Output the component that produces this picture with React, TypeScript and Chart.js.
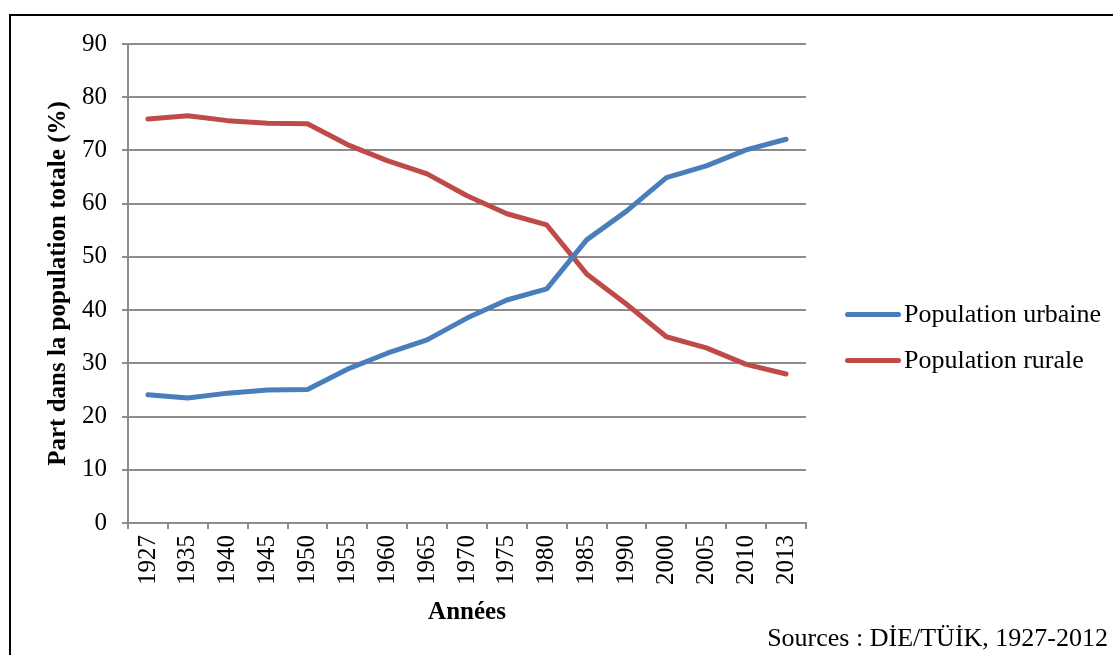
import React, { useEffect, useRef } from "react";
import { Chart, registerables } from "chart.js";

Chart.register(...registerables);

const years = ["1927", "1935", "1940", "1945", "1950", "1955", "1960", "1965", "1970", "1975", "1980", "1985", "1990", "2000", "2005", "2010", "2013"];
const urbaine = [24.1, 23.5, 24.4, 25.0, 25.1, 28.9, 31.9, 34.4, 38.5, 41.9, 44.0, 53.2, 58.6, 64.9, 67.1, 70.1, 72.1];
const rurale = [75.9, 76.5, 75.6, 75.1, 75.0, 71.1, 68.1, 65.6, 61.5, 58.1, 56.0, 46.8, 41.1, 35.0, 32.9, 29.8, 28.0];
const yTicks = [0, 10, 20, 30, 40, 50, 60, 70, 80, 90];
const seriesNames = ["Population urbaine", "Population rurale"];
const seriesColors = ["#4A7EBB", "#BE4B48"];
const xTitle = "Années";
const yTitle = "Part dans la population totale (%)";
const sourceText = "Sources : DİE/TÜİK, 1927-2012";

const FONT = "'Liberation Serif', 'Times New Roman', serif";
const GRID = "#8c8c8c";

export default function App() {
  const ref = useRef<HTMLCanvasElement | null>(null);

  useEffect(() => {
    if (!ref.current) return;
    const chart = new Chart(ref.current, {
      type: "line",
      data: {
        labels: years,
        datasets: [
          {
            label: seriesNames[0],
            data: urbaine,
            borderColor: seriesColors[0],
            backgroundColor: seriesColors[0],
            borderWidth: 5,
            pointRadius: 0,
            tension: 0,
            borderCapStyle: "round",
            borderJoinStyle: "round",
          },
          {
            label: seriesNames[1],
            data: rurale,
            borderColor: seriesColors[1],
            backgroundColor: seriesColors[1],
            borderWidth: 5,
            pointRadius: 0,
            tension: 0,
            borderCapStyle: "round",
            borderJoinStyle: "round",
          },
        ],
      },
      options: {
        responsive: false,
        animation: false,
        devicePixelRatio: 1,
        layout: { padding: { top: 44, right: 307, bottom: 0, left: 0 } },
        plugins: { legend: { display: false }, tooltip: { enabled: false } },
        scales: {
          x: {
            type: "category",
            offset: true,
            grid: {
              offset: true,
              drawOnChartArea: false,
              drawTicks: true,
              tickLength: 6,
              color: GRID,
              lineWidth: 2,
            },
            border: { display: true, color: GRID, width: 2 },
            ticks: {
              autoSkip: false,
              minRotation: 90,
              maxRotation: 90,
              padding: 6,
              color: "#000",
              font: { family: FONT, size: 25 },
            },
            title: {
              display: true,
              text: xTitle,
              color: "#000",
              font: { family: FONT, size: 25, weight: "bold" },
              padding: { top: 0, bottom: 27 },
            },
            afterFit: (s: any) => {
              s.height = 132;
            },
          },
          y: {
            min: 0,
            max: 90,
            afterBuildTicks: (s: any) => {
              s.ticks = yTicks.map((v) => ({ value: v }));
            },
            grid: {
              drawTicks: true,
              tickLength: 6,
              color: GRID,
              lineWidth: 2,
            },
            border: { display: true, color: GRID, width: 2 },
            ticks: {
              padding: 15,
              color: "#000",
              font: { family: FONT, size: 25 },
            },
            title: {
              display: true,
              text: yTitle,
              color: "#000",
              font: { family: FONT, size: 25, weight: "bold" },
              padding: { top: 44, bottom: 0 },
            },
            afterFit: (s: any) => {
              s.width = 128;
            },
          },
        },
      },
    });
    return () => chart.destroy();
  }, []);

  const legendTops = [314, 360];

  return (
    <div
      style={{
        position: "fixed",
        left: 0,
        top: 0,
        width: 1113,
        height: 655,
        overflow: "hidden",
        background: "#fff",
        fontFamily: FONT,
      }}
    >
      <div
        style={{
          position: "absolute",
          left: 9,
          top: 14,
          width: 1120,
          height: 700,
          border: "2px solid #000",
          boxSizing: "border-box",
        }}
      />
      <canvas
        ref={ref}
        width={1113}
        height={655}
        style={{ position: "absolute", left: 0, top: 0, width: 1113, height: 655 }}
      />
      {seriesNames.map((name, i) => (
        <React.Fragment key={name}>
          <div
            style={{
              position: "absolute",
              left: 845,
              top: legendTops[i] - 2.5,
              width: 56,
              height: 5,
              borderRadius: 3,
              background: seriesColors[i],
            }}
          />
          <div
            style={{
              position: "absolute",
              left: 904,
              top: legendTops[i] - 16,
              height: 32,
              lineHeight: "32px",
              fontSize: 26,
              color: "#000",
              whiteSpace: "nowrap",
            }}
          >
            {name}
          </div>
        </React.Fragment>
      ))}
      <div
        style={{
          position: "absolute",
          right: 5,
          top: 638 - 16,
          height: 32,
          lineHeight: "32px",
          fontSize: 26,
          color: "#000",
          whiteSpace: "nowrap",
        }}
      >
        {sourceText}
      </div>
    </div>
  );
}
